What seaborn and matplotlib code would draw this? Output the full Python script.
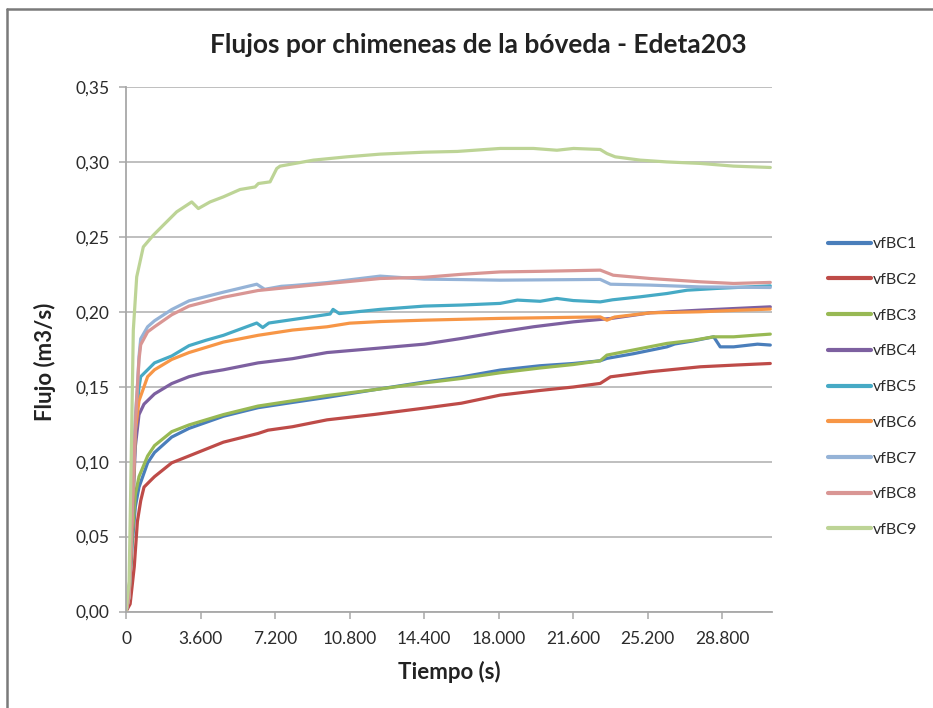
import pandas as pd
import matplotlib
matplotlib.use("Agg")
import matplotlib.pyplot as plt
from matplotlib.lines import Line2D
from matplotlib.ticker import FuncFormatter, FixedLocator
import seaborn as sns

# Caudal por cada chimenea de la bóveda (m3/s) frente al tiempo (s)
series_names = ["vfBC1", "vfBC2", "vfBC3", "vfBC4", "vfBC5",
                "vfBC6", "vfBC7", "vfBC8", "vfBC9"]
series_colors = ["#4A7EBB", "#BE4B48", "#98B954", "#7D60A0", "#46AAC5",
                 "#F79646", "#95B3D7", "#D99694", "#BDD496"]

t_bc1 = [0, 150, 300, 450, 628, 1044, 1377, 2208, 3044, 4706, 6378, 8040, 9712,
         12000, 14400, 16200, 18072, 20000, 21600, 22904, 23226, 24500, 26127,
         26500, 27400, 28384, 28700, 29346, 30500, 31118]
v_bc1 = [0, 0.01, 0.045, 0.07, 0.083, 0.0992, 0.1061, 0.1164, 0.1222, 0.1303,
         0.136, 0.1395, 0.1429, 0.148, 0.1531, 0.1565, 0.1611, 0.164, 0.1655,
         0.1673, 0.1689, 0.172, 0.1766, 0.1785, 0.1806, 0.1833, 0.1766, 0.1766,
         0.1784, 0.1778]

t_bc2 = [0, 200, 400, 550, 710, 870, 1208, 1377, 2208, 3044, 4706, 6378, 6862,
         8040, 9712, 12000, 14400, 16200, 18072, 20000, 21600, 22904, 23400,
         25320, 27738, 29500, 31118]
v_bc2 = [0, 0.005, 0.03, 0.06, 0.0739, 0.083, 0.0877, 0.09, 0.0992, 0.1038,
         0.113, 0.1188, 0.121, 0.1233, 0.1279, 0.1315, 0.1357, 0.139, 0.1444,
         0.1475, 0.1498, 0.1522, 0.1566, 0.16, 0.1633, 0.1645, 0.1655]

t_bc3 = [0, 150, 300, 450, 628, 1044, 1377, 2208, 3044, 4706, 6378, 8040, 9712,
         12000, 14400, 16200, 18072, 20000, 21600, 22904, 23226, 24500, 26127,
         27400, 28384, 29346, 30500, 31118]
v_bc3 = [0, 0.01, 0.05, 0.078, 0.09, 0.1038, 0.1107, 0.12, 0.1245, 0.1314,
         0.1371, 0.1406, 0.1441, 0.148, 0.1525, 0.1555, 0.1593, 0.1625, 0.1648,
         0.1673, 0.1711, 0.1745, 0.1789, 0.181, 0.1833, 0.1833, 0.1845, 0.1851]

t_bc4 = [0, 150, 300, 450, 628, 870, 1377, 2208, 3044, 3700, 4706, 6378, 8040,
         9712, 12000, 14400, 16200, 18072, 19680, 21615, 23400, 25320, 27738,
         31118]
v_bc4 = [0, 0.01, 0.06, 0.11, 0.1314, 0.1384, 0.1452, 0.1521, 0.1567, 0.159,
         0.1613, 0.1659, 0.1687, 0.1728, 0.1755, 0.1784, 0.1822, 0.1866, 0.19,
         0.1933, 0.1955, 0.1993, 0.2011, 0.2033]

t_bc5 = [0, 150, 300, 450, 628, 710, 1044, 1377, 2208, 3044, 3865, 4706, 6314,
         6604, 6900, 8891, 9857, 10000, 10300, 12273, 14400, 16200, 18072,
         18900, 20000, 20811, 21600, 22904, 23500, 24837, 26127, 27100, 28550,
         31118]
v_bc5 = [0, 0.01, 0.06, 0.12, 0.1497, 0.1567, 0.1613, 0.1659, 0.1705, 0.1774,
         0.181, 0.1843, 0.1925, 0.1895, 0.1925, 0.1965, 0.1985, 0.2016, 0.1988,
         0.2016, 0.2038, 0.2045, 0.2056, 0.2078, 0.207, 0.2089, 0.2075, 0.2066,
         0.208, 0.21, 0.2122, 0.2144, 0.2156, 0.2173]

t_bc6 = [0, 150, 300, 450, 628, 1044, 1377, 2208, 3044, 4706, 6378, 8040, 9712,
         10800, 12300, 14400, 16200, 18072, 20000, 22904, 23226, 23600, 25320,
         27738, 29500, 31118]
v_bc6 = [0, 0.01, 0.06, 0.12, 0.1406, 0.1567, 0.1613, 0.1682, 0.1728, 0.1798,
         0.1843, 0.1878, 0.19, 0.1924, 0.1935, 0.1944, 0.195, 0.1956, 0.196,
         0.1966, 0.1944, 0.1965, 0.1993, 0.2, 0.201, 0.2018]

t_bc7 = [0, 150, 300, 450, 541, 628, 710, 1044, 1377, 2208, 3044, 4706, 6314,
         6700, 7500, 8040, 9712, 12273, 14400, 16200, 18072, 20000, 22904,
         23400, 25320, 27738, 31118]
v_bc7 = [0, 0.01, 0.07, 0.13, 0.1477, 0.17, 0.182, 0.19, 0.194, 0.2015, 0.2073,
         0.2131, 0.2184, 0.215, 0.217, 0.2175, 0.2195, 0.2238, 0.2218, 0.2215,
         0.2211, 0.2213, 0.2216, 0.2184, 0.2178, 0.2166, 0.2162]

t_bc8 = [0, 150, 300, 450, 541, 628, 710, 1044, 1377, 2208, 3044, 4706, 6378,
         8040, 9712, 12273, 14400, 16200, 18072, 20000, 22904, 23532, 25320,
         27738, 29346, 31118]
v_bc8 = [0, 0.01, 0.07, 0.125, 0.1477, 0.168, 0.178, 0.1866, 0.19, 0.198,
         0.2038, 0.2097, 0.2142, 0.2165, 0.2188, 0.2222, 0.223, 0.225, 0.2266,
         0.227, 0.2278, 0.2244, 0.2222, 0.22, 0.2189, 0.2196]

t_bc9 = [0, 150, 250, 353, 517, 836, 1319, 1802, 2449, 3174, 3494, 4059, 4703,
         5508, 6233, 6394, 6958, 7280, 7441, 9050, 10664, 12273, 14400, 16000,
         18072, 19680, 20811, 21615, 22904, 23226, 23629, 24837, 26127, 27738,
         29346, 31118]
v_bc9 = [0, 0.02, 0.1, 0.1877, 0.2233, 0.2433, 0.2511, 0.2578, 0.2667, 0.2733,
         0.2689, 0.2733, 0.2767, 0.2816, 0.2833, 0.2856, 0.2867, 0.2956, 0.2972,
         0.3012, 0.3034, 0.3052, 0.3065, 0.307, 0.309, 0.309, 0.3078, 0.309,
         0.3083, 0.3056, 0.3034, 0.3012, 0.3, 0.299, 0.2972, 0.2963]

x_ticks = [0, 3600, 7200, 10800, 14400, 18000, 21600, 25200, 28800]
y_ticks = [0.0, 0.05, 0.10, 0.15, 0.20, 0.25, 0.30, 0.35]

times = [t_bc1, t_bc2, t_bc3, t_bc4, t_bc5, t_bc6, t_bc7, t_bc8, t_bc9]
flows = [v_bc1, v_bc2, v_bc3, v_bc4, v_bc5, v_bc6, v_bc7, v_bc8, v_bc9]
df = pd.concat(
    [pd.DataFrame({"Tiempo": t, "Flujo": v, "Serie": n})
     for n, t, v in zip(series_names, times, flows)],
    ignore_index=True,
)
palette = dict(zip(series_names, series_colors))

sns.set_theme(style="white")
plt.rcParams["font.family"] = ["Lato", "DejaVu Sans"]

W, H = 933, 708
fig = plt.figure(figsize=(W / 100, H / 100), dpi=100)
fig.patch.set_facecolor("white")

x0, x1, y_top, y_bot = 126, 772, 87, 611.5
ax = fig.add_axes([x0 / W, 1 - y_bot / H, (x1 - x0) / W, (y_bot - y_top) / H])

sns.lineplot(data=df, x="Tiempo", y="Flujo", hue="Serie", palette=palette,
             hue_order=series_names, linewidth=2.3, estimator=None,
             legend=False, ax=ax)

ax.set_xlim(0, 31200)
ax.set_ylim(0, 0.35)
ax.xaxis.set_major_locator(FixedLocator(x_ticks))
ax.yaxis.set_major_locator(FixedLocator(y_ticks))
ax.xaxis.set_major_formatter(FuncFormatter(lambda v, p: f"{int(round(v)):,}".replace(",", ".")))
ax.yaxis.set_major_formatter(FuncFormatter(lambda v, p: f"{v:.2f}".replace(".", ",")))

ax.grid(axis="y", color="#b4b4b4", linewidth=1.2)
ax.grid(axis="x", visible=False)
ax.set_axisbelow(True)
for side in ("top", "right"):
    ax.spines[side].set_visible(False)
for side in ("left", "bottom"):
    ax.spines[side].set_color("#a8a8a8")
    ax.spines[side].set_linewidth(1.3)
ax.tick_params(axis="both", which="major", direction="out", length=5,
               width=1.1, color="#a8a8a8", labelsize=12.5, labelcolor="#2b2b2b",
               left=True, bottom=True)
ax.tick_params(axis="y", pad=7)
ax.tick_params(axis="x", pad=9)

ax.set_xlabel("Tiempo (s)", fontsize=16, fontweight="bold", color="#222222")
ax.xaxis.set_label_coords(0.5, (y_bot - 672) / (y_bot - y_top))
ax.xaxis.label.set_verticalalignment("center")
ax.set_ylabel("Flujo (m3/s)", fontsize=16, fontweight="bold", color="#222222")
ax.yaxis.set_label_coords((45 - x0) / (x1 - x0), (y_bot - 362) / (y_bot - y_top))
ax.yaxis.label.set_verticalalignment("center")

fig.text(478 / W, 1 - 45 / H, "Flujos por chimeneas de la bóveda - Edeta203",
         ha="center", va="center", fontsize=19, fontweight="bold", color="#222222")

handles = [Line2D([], [], color=c, linewidth=3) for c in series_colors]
ax.legend(handles, series_names, loc="center left",
          bbox_to_anchor=(828 / W, 1 - 387 / H), bbox_transform=fig.transFigure,
          frameon=False, fontsize=11.5, labelspacing=1.35, handlelength=2.7,
          handletextpad=0.12, borderpad=0, borderaxespad=0,
          labelcolor="#2b2b2b")

# marco del gráfico
frame_kw = dict(transform=fig.transFigure, color="#7a7a7a", linewidth=1.8)
fig.add_artist(Line2D([7 / W, 1], [1 - 9 / H, 1 - 9 / H], **frame_kw))
fig.add_artist(Line2D([7 / W, 7 / W], [0, 1 - 9 / H], **frame_kw))

fig.savefig("out.png", dpi=100, facecolor="white")
